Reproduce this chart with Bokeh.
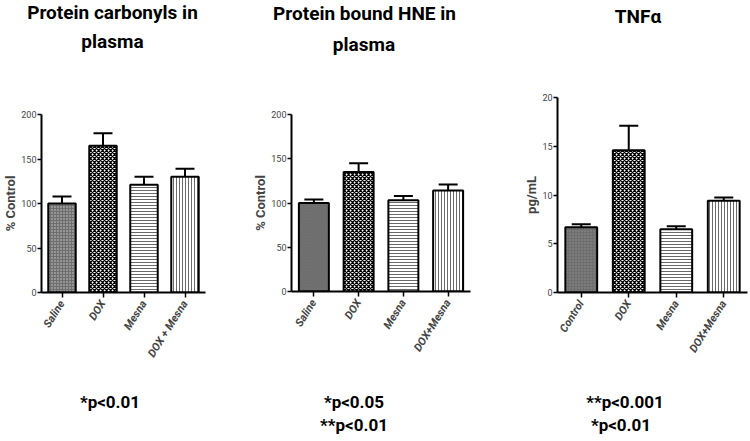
from math import pi
from bokeh.plotting import figure
from bokeh.models import (ColumnDataSource, FactorRange, Range1d, FixedTicker,
                          Whisker, TeeHead, Div)
from bokeh.layouts import row, column
from bokeh.embed import file_html
from bokeh.resources import INLINE

# ---------------- data ----------------
cats1 = ["Saline", "DOX", "Mesna", "DOX + Mesna"]
vals1 = [100, 165, 121, 130]
errs1 = [8, 14, 9, 9]

cats2 = ["Saline", "DOX", "Mesna", "DOX+Mesna"]
vals2 = [100, 135, 103, 114]
errs2 = [4, 10, 5, 7]

cats3 = ["Control", "DOX", "Mesna", "DOX+Mesna"]
vals3 = [6.7, 14.6, 6.5, 9.4]
errs3 = [0.3, 2.5, 0.3, 0.35]

ticks1 = [0, 50, 100, 150, 200]
ticks2 = [0, 50, 100, 150, 200]
ticks3 = [0, 5, 10, 15, 20]

titles1 = ["Protein carbonyls in", "plasma"]
titles2 = ["Protein bound HNE in", "plasma"]
titles3 = ["TNF\u03b1"]
ylabel1 = "% Control"
ylabel2 = "% Control"
ylabel3 = "pg/mL"
pvals1 = ["*p<0.01"]
pvals2 = ["*p<0.05", "**p<0.01"]
pvals3 = ["**p<0.001", "*p<0.01"]

FONT = "Roboto"

fill_colors = ["#8c8c8c", "white", "white", "white"]
hatch_patterns = ["cross", "diagonal_cross", "horizontal_line", "vertical_line"]
hatch_colors = ["#6e6e6e", "black", "#6a6a6a", "#6a6a6a"]
hatch_scales = [3, 4, 3, 3]
hatch_weights = [1, 1.3, 1, 1]

TOP_H = 68
FIG_H = 302
BOT_H = 71


def make_fig(cats, vals, errs, ymax, ticks, ylabel, width, mbl, mbr, mbt, mbb, first_fill):
    p = figure(x_range=FactorRange(factors=cats, range_padding=0),
               y_range=Range1d(0, ymax),
               width=width, height=FIG_H, output_backend="svg",
               toolbar_location=None, tools="")
    p.min_border_left = mbl
    p.min_border_right = mbr
    p.min_border_top = mbt
    p.min_border_bottom = mbb
    p.outline_line_color = None
    p.xgrid.grid_line_color = None
    p.ygrid.grid_line_color = None
    p.background_fill_color = None
    p.border_fill_color = None

    fc = list(fill_colors)
    fc[0] = first_fill
    src = ColumnDataSource(dict(cat=cats, val=vals,
                                upper=[v + e for v, e in zip(vals, errs)],
                                fill=fc, hp=hatch_patterns, hc=hatch_colors,
                                hs=hatch_scales, hw=hatch_weights))
    w = Whisker(base="cat", lower="val", upper="upper", source=src,
                line_color="black", line_width=2,
                upper_head=TeeHead(size=19, line_width=2, line_color="black"),
                lower_head=None)
    p.add_layout(w)
    p.vbar(x="cat", top="val", bottom=0, width=0.67, source=src,
           fill_color="fill", line_color="black", line_width=2,
           hatch_pattern="hp", hatch_color="hc", hatch_scale="hs",
           hatch_weight="hw")

    ya = p.yaxis[0]
    ya.ticker = FixedTicker(ticks=ticks)
    ya.axis_line_width = 2
    ya.major_tick_line_width = 1.5
    ya.major_tick_out = 4
    ya.major_tick_in = 0
    ya.minor_tick_line_color = None
    ya.major_label_text_font = FONT
    ya.major_label_text_font_size = "9px"
    ya.major_label_standoff = 1
    ya.axis_label = ylabel
    ya.axis_label_text_font = FONT
    ya.axis_label_text_font_size = "13px"
    ya.axis_label_text_font_style = "bold"
    ya.axis_label_standoff = 0

    xa = p.xaxis[0]
    xa.axis_line_width = 2
    xa.major_tick_line_width = 1.5
    xa.major_tick_out = 5
    xa.major_tick_in = 0
    xa.minor_tick_line_color = None
    xa.major_label_orientation = 1.01
    xa.major_label_text_font = FONT
    xa.major_label_text_font_size = "11px"
    xa.major_label_text_font_style = "bold italic"
    xa.major_label_standoff = 4
    return p


def text_div(lines, width, height, size, line_hs, top, dxs):
    inner = "".join(
        f'<div style="position:relative;left:{dx}px;text-align:center;white-space:nowrap;'
        f'height:{lh}px;line-height:{lh}px;">{t.replace("<", "&lt;")}</div>'
        for t, dx, lh in zip(lines, dxs, line_hs))
    html = (f'<div style="padding-top:{top}px;font-family:Roboto,sans-serif;font-weight:bold;'
            f'font-size:{size}px;color:black;width:{width}px;">{inner}</div>')
    return Div(text=html, width=width, height=height, margin=(0, 0, 0, 0),
               styles={"overflow": "visible"})


specs = [
    dict(cats=cats1, vals=vals1, errs=errs1, ymax=200, ticks=ticks1, ylabel=ylabel1,
         width=250, mbl=38, mbr=45, mbt=46, mbb=78, first_fill="#969696",
         titles=titles1, tlh=[25, 33], tdx=[-12.5, -12.5],
         pvals=pvals1, pdx=[-15]),
    dict(cats=cats2, vals=vals2, errs=errs2, ymax=200, ticks=ticks2, ylabel=ylabel2,
         width=250, mbl=39, mbr=30, mbt=46, mbb=79, first_fill="#707070",
         titles=titles2, tlh=[28, 33], tdx=[-10.5, -11],
         pvals=pvals2, pdx=[-21, -21]),
    dict(cats=cats3, vals=vals3, errs=errs3, ymax=20, ticks=ticks3, ylabel=ylabel3,
         width=250, mbl=57, mbr=3, mbt=29, mbb=78, first_fill="#7c7c7c",
         titles=titles3, tlh=[33], tdx=[13],
         pvals=pvals3, pdx=[0, -4]),
]

cols = []
for s in specs:
    top = text_div(s["titles"], s["width"], TOP_H, 19, s["tlh"], 0, s["tdx"])
    fig = make_fig(s["cats"], s["vals"], s["errs"], s["ymax"], s["ticks"], s["ylabel"],
                   s["width"], s["mbl"], s["mbr"], s["mbt"], s["mbb"], s["first_fill"])
    bot = text_div(s["pvals"], s["width"], BOT_H, 17, [23] * len(s["pvals"]), 21, s["pdx"])
    cols.append(column(top, fig, bot, spacing=0))

layout = row(*cols, spacing=0)
open("out.html", "w").write(file_html(layout, INLINE))
